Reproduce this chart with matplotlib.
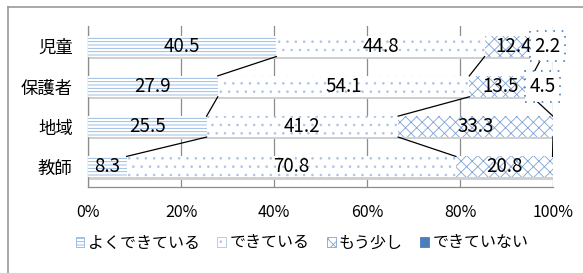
import matplotlib
matplotlib.use('Agg')
from matplotlib import pyplot as plt
from matplotlib.patches import Patch
from matplotlib.lines import Line2D
import numpy as np

plt.rcParams['font.family'] = ['Noto Sans CJK JP', 'DejaVu Sans']
plt.rcParams['hatch.linewidth'] = 0.6

# Data
groups = ['児童', '保護者', '地域', '教師']
series = ['よくできている', 'できている', 'もう少し', 'できていない']
very_good = [40.5, 27.9, 25.5, 8.3]
good = [44.8, 54.1, 41.2, 70.8]
bit_more = [12.4, 13.5, 33.3, 20.8]
not_yet = [2.2, 4.5, 0.0, 0.0]
ticks = [0, 20, 40, 60, 80, 100]

values = [very_good, good, bit_more, not_yet]
faces = ['white', 'white', 'white', '#4a7ebb']
hatches = ['-----', '..', 'xxx', None]
edges = ['#8db3e2', '#a9c4e8', '#7fa3d4', '#4a7ebb']

fig = plt.figure(figsize=(5.83, 2.73), dpi=100)
ax = fig.add_axes([0.151, 0.315, 0.7975, 0.59])

y = np.arange(len(groups))
h = 0.52
left = np.zeros(len(groups))
for vals, fc, ht, ec in zip(values, faces, hatches, edges):
    vals = np.array(vals)
    # soft shadow under each bar
    ax.barh(y + 0.06, vals, left=left, height=h, color='#d0d0d0',
            edgecolor='none', zorder=2)
    ax.barh(y, vals, left=left, height=h, color=fc, hatch=ht,
            edgecolor=ec, linewidth=0, zorder=3)
    left = left + vals

# series lines between bars
cum = np.zeros(len(groups))
for vals in values[:3]:
    cum = cum + np.array(vals)
    for i in range(len(groups) - 1):
        ax.plot([cum[i], cum[i + 1]], [y[i] + h / 2, y[i + 1] - h / 2],
                color='black', lw=0.9, zorder=4)

# data labels
cum = np.zeros(len(groups))
for k, vals in enumerate(values):
    for i, v in enumerate(vals):
        if v <= 0:
            continue
        x = cum[i] + v / 2
        if k == 3:
            ax.text(x, y[i], f'{v:.1f}', ha='center', va='center',
                    fontsize=13.5, zorder=6,
                    bbox=dict(boxstyle='square,pad=0.25', fc='white',
                              ec='#4a7ebb', ls=(0, (1, 4)), lw=1.2))
        else:
            ax.text(x, y[i], f'{v:.1f}', ha='center', va='center',
                    fontsize=13.5, zorder=5)
    cum = cum + np.array(vals)

ax.set_xlim(0, 100)
ax.set_ylim(3.5, -0.5)
ax.set_xticks(ticks)
ax.set_xticklabels([f'{t}%' for t in ticks], fontsize=11.5)
ax.set_yticks(y)
ax.set_yticklabels(groups, fontsize=12.5)
ax.tick_params(axis='both', length=0)
ax.tick_params(axis='x', pad=12)
ax.tick_params(axis='y', pad=11)
ax.grid(axis='x', color='#8c8c8c', lw=0.9, zorder=1)
ax.set_axisbelow(True)
for s in ['top', 'right']:
    ax.spines[s].set_visible(False)
for s in ['left', 'bottom']:
    ax.spines[s].set_color('#8c8c8c')
    ax.spines[s].set_linewidth(0.9)

handles = [Patch(facecolor=fc, hatch=ht, edgecolor=ec, lw=0.6)
           for fc, ht, ec in zip(faces, hatches, edges)]
fig.legend(handles, series, loc='center', bbox_to_anchor=(0.518, 0.11),
           ncol=4, frameon=False, fontsize=11.5, handlelength=0.55,
           handleheight=0.55, handletextpad=0.2, columnspacing=1.1)

# outer chart frame (top and left edges visible)
fig.add_artist(Line2D([8 / 583, 1], [1 - 7 / 273, 1 - 7 / 273],
                      color='#9a9a9a', lw=1.2))
fig.add_artist(Line2D([8 / 583, 8 / 583], [0, 1 - 7 / 273],
                      color='#9a9a9a', lw=1.2))

fig.savefig('out.png', dpi=100)
